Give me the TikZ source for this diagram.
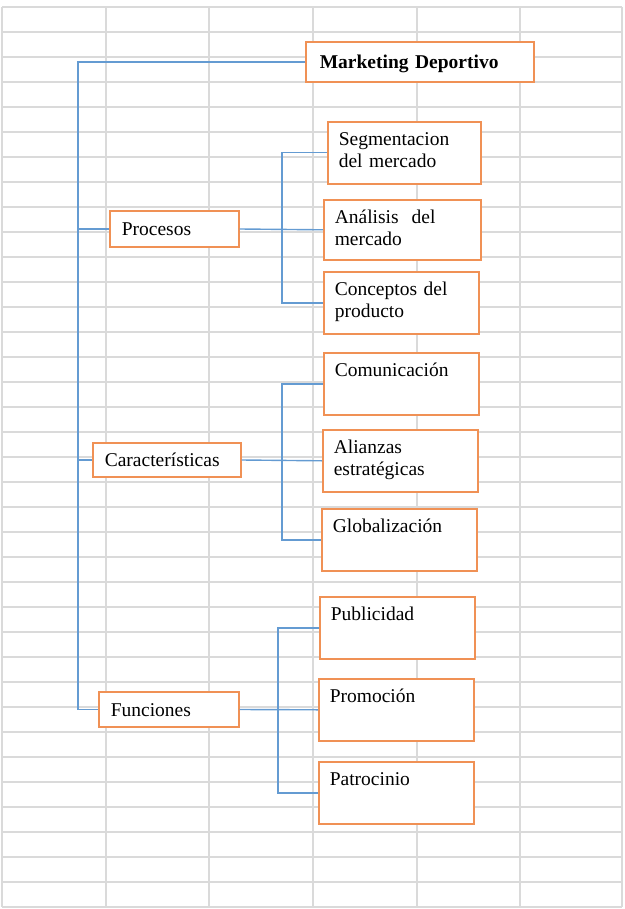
\documentclass[tikz,border=0pt]{standalone}
\usepackage{fontspec}
\setmainfont{Liberation Serif}
\usepackage{tikz}
\usetikzlibrary{positioning, calc}
\definecolor{rejilla}{RGB}{218,218,218}
\definecolor{bordenaranja}{RGB}{240,145,85}
\definecolor{lineaazul}{RGB}{100,155,210}

\begin{document}
\begin{tikzpicture}[x=1pt, y=-1pt,
    every node/.style={font=\fontsize{19.5}{22}\selectfont},
    caja/.style={draw=bordenaranja, fill=white, line width=1.6pt, anchor=west,
      inner xsep=12pt, inner ysep=0pt, align=left, text height=13pt, text depth=0pt},
    cajagrande/.style={draw=bordenaranja, fill=white, line width=1.6pt, anchor=north west,
      inner xsep=11pt, inner ysep=11pt, text width=133pt, align=left,
      text height=13pt, text depth=27pt},
    enlace/.style={draw=lineaazul, line width=1.4pt}]
    \useasboundingbox (0,0) rectangle (624,909);
    % Hoja de calculo de fondo
    \foreach \i in {0,...,36}
      \draw[rejilla, line width=1.5pt] (2,{7+25*\i}) -- (622,{7+25*\i});
    \foreach \x in {2,106,209,313,417,520,622}
      \draw[rejilla, line width=1.5pt] (\x,7) -- (\x,907);

    % Nivel principal
    \node[caja, minimum height=40pt, text width=200pt, inner xsep=14pt, font=\fontsize{19.5}{22}\selectfont\bfseries]
      (mkt) at (305,62) {Marketing Deportivo};
    \node[caja, minimum height=36pt, text width=105pt] (proc) at (109,229) {Procesos};
    \node[caja, minimum height=34pt, text width=124pt] (carac) at (92,460) {Características};
    \node[caja, minimum height=35pt, text width=116pt] (func) at (98,709.5) {Funciones};

    % Procesos
    \node[cajagrande, text width=131pt] (seg) at (327,121) {Segmentacion\\del mercado};
    \node[cajagrande, text width=135pt, text depth=25pt] (anal) at (323,199) {Análisis\ \ del\\mercado};
    \node[cajagrande] (conc) at (323,271) {Conceptos del\\producto};
    % Caracteristicas
    \node[cajagrande] (com) at (323,352) {Comunicación};
    \node[cajagrande] (ali) at (322,429) {Alianzas\\estratégicas};
    \node[cajagrande] (glob) at (321,508) {Globalización};
    % Funciones
    \node[cajagrande] (pub) at (319,596) {Publicidad};
    \node[cajagrande] (prom) at (318,678) {Promoción};
    \node[cajagrande] (pat) at (318,761) {Patrocinio};

    % Conectores
    \coordinate (tronco) at (78,0);
    \coordinate (bus1) at (282,0);
    \coordinate (bus2) at (282,0);
    \coordinate (bus3) at (278,0);
    \draw[enlace] (mkt.west) -| (func.west -| tronco) -- (func.west);
    \draw[enlace] (proc.west -| tronco) -- (proc.west);
    \draw[enlace] (carac.west -| tronco) -- (carac.west);

    \draw[enlace] (seg.west) -| (conc.west -| bus1) -- (conc.west);
    \draw[enlace] (proc.east) -- (anal.west);
    \draw[enlace] (com.west) -| (glob.west -| bus2) -- (glob.west);
    \draw[enlace] (carac.east) -- (ali.west);
    \draw[enlace] (pub.west) -| (pat.west -| bus3) -- (pat.west);
    \draw[enlace] (func.east) -- (prom.west);
\end{tikzpicture}
\end{document}
